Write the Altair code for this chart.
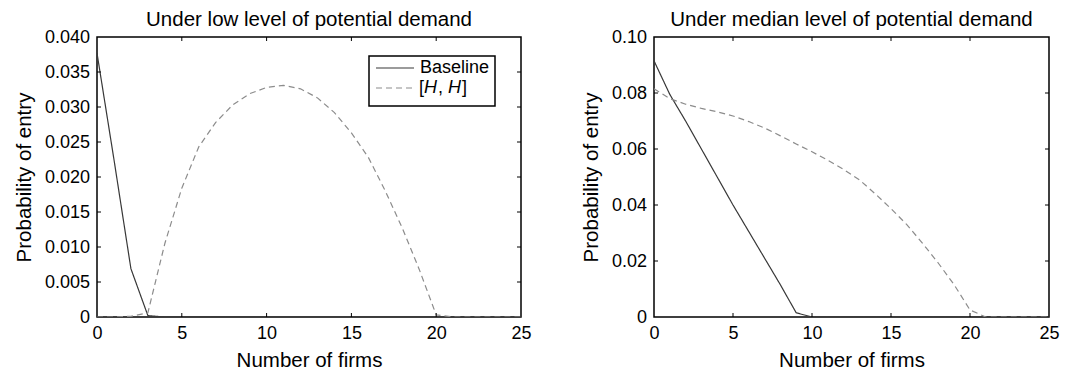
import altair as alt
import pandas as pd

# ---------------- data ----------------
firms = list(range(26))
series_names = ["Baseline", "[H, H]"]

low_baseline = [0.0377, 0.0225, 0.0069, 0.0002] + [0.0] * 22
low_hh = [0.0, 0.0, 0.0001, 0.0006, 0.0105, 0.0184, 0.0243, 0.0278, 0.0303, 0.0319,
          0.0328, 0.0331, 0.0326, 0.0313, 0.0292, 0.0263, 0.0228, 0.0180, 0.0127, 0.0068,
          0.0003, 0.0, 0.0, 0.0, 0.0, 0.0]

med_baseline = [0.0915, 0.0795, 0.0700, 0.0600, 0.0500, 0.0400, 0.0305, 0.0210, 0.0115, 0.0015] + [0.0] * 16
med_hh = [0.0815, 0.0780, 0.0760, 0.0745, 0.0733, 0.0718, 0.0698, 0.0675, 0.0647, 0.0618,
          0.0590, 0.0560, 0.0527, 0.0490, 0.0440, 0.0387, 0.0330, 0.0263, 0.0192, 0.0115,
          0.0025, 0.0, 0.0, 0.0, 0.0, 0.0]

x_ticks = [0, 5, 10, 15, 20, 25]
low_y_ticks = [0.0, 0.005, 0.010, 0.015, 0.020, 0.025, 0.030, 0.035, 0.040]
med_y_ticks = [0.0, 0.02, 0.04, 0.06, 0.08, 0.10]

FONT = "Liberation Sans"
H = 280
LAB = 18
TIT = 20.5


def long_df(base, hh):
    return pd.DataFrame({
        "firms": firms * 2,
        "prob": base + hh,
        "series": [series_names[0]] * len(firms) + [series_names[1]] * len(firms),
    })


def panel(base, hh, ydom, yticks, yfmt, title, W, legend=False):
    df = long_df(base, hh)
    xs = alt.Scale(domain=[0, 25], nice=False, zero=False)
    ys = alt.Scale(domain=ydom, nice=False)
    xaxis = alt.Axis(values=x_ticks, title="Number of firms", labelFontSize=LAB,
                     titleFontSize=TIT, titleFontWeight="normal", ticks=False, tickSize=0,
                     domain=False, grid=False, labelPadding=7, titlePadding=8,
                     labelFlush=False, labelOverlap=False,
                     labelColor="black", titleColor="black")
    yaxis = alt.Axis(values=yticks, title="Probability of entry", labelFontSize=LAB,
                     titleFontSize=TIT, titleFontWeight="normal", ticks=False, tickSize=0,
                     domain=False, grid=False, labelPadding=7.5, titlePadding=10,
                     labelFlush=False, labelOverlap=False,
                     labelColor="black", titleColor="black",
                     labelExpr=f"datum.value == 0 ? '0' : format(datum.value, '{yfmt}')")
    X = alt.X("firms:Q", scale=xs, axis=xaxis)
    Y = alt.Y("prob:Q", scale=ys, axis=yaxis)
    lines = alt.Chart(df).mark_line(strokeWidth=1.2, clip=True).encode(
        x=X, y=Y,
        color=alt.Color("series:N", scale=alt.Scale(domain=series_names,
                                                    range=["#383838", "#8c8c8c"]), legend=None),
        strokeDash=alt.StrokeDash("series:N", scale=alt.Scale(domain=series_names,
                                                              range=[[1, 0], [6, 4]]), legend=None),
        order=alt.Order("series:N", sort="descending"),
    )
    xt = pd.DataFrame({"firms": x_ticks[1:-1]})
    yt = pd.DataFrame({"prob": yticks[1:-1]})
    tb = alt.Chart(xt).mark_rule(color="black", strokeWidth=1).encode(
        x=X, y=alt.value(H), y2=alt.value(H - 4))
    tt = alt.Chart(xt).mark_rule(color="black", strokeWidth=1).encode(
        x=X, y=alt.value(0), y2=alt.value(4))
    tl = alt.Chart(yt).mark_rule(color="black", strokeWidth=1).encode(
        y=Y, x=alt.value(0), x2=alt.value(4))
    tr = alt.Chart(yt).mark_rule(color="black", strokeWidth=1).encode(
        y=Y, x=alt.value(W), x2=alt.value(W - 4))
    layers = [lines, tb, tt, tl, tr]
    if legend:
        one = pd.DataFrame({"a": [0]})
        bx0, bx1, by0, by1 = 272, 398, 19, 69
        box = alt.Chart(one).mark_rect(fill="white", stroke="black", strokeWidth=1.5).encode(
            x=alt.value(bx0), x2=alt.value(bx1), y=alt.value(by0), y2=alt.value(by1))
        l1 = alt.Chart(one).mark_rule(color="#383838", strokeWidth=1.2).encode(
            x=alt.value(279), x2=alt.value(317), y=alt.value(31))
        l2 = alt.Chart(one).mark_rule(color="#8c8c8c", strokeWidth=1.2, strokeDash=[6, 4]).encode(
            x=alt.value(279), x2=alt.value(317), y=alt.value(51))

        def txt(s, x, y, italic=False):
            return alt.Chart(one).mark_text(text=s, font=FONT, fontSize=LAB, align="left",
                                            baseline="middle", color="black",
                                            fontStyle="italic" if italic else "normal").encode(
                x=alt.value(x), y=alt.value(y))
        layers += [box, l1, l2,
                   txt("Baseline", 323, 31),
                   txt("[", 322, 51), txt("H", 327, 51, True), txt(",", 341, 51),
                   txt("H", 351, 51, True), txt("]", 365, 51)]
    return alt.layer(*layers).properties(
        width=W, height=H,
        title=alt.TitleParams(title, fontSize=TIT, font=FONT, fontWeight="normal",
                              offset=-2, color="black"))


left = panel(low_baseline, low_hh, [0, 0.04], low_y_ticks, ".3f",
             "Under low level of potential demand", 424, legend=True)
right = panel(med_baseline, med_hh, [0, 0.10], med_y_ticks, ".2f",
              "Under median level of potential demand", 395)

chart = alt.hconcat(left, right, spacing=48).properties(
    padding={"left": 5, "top": 0, "right": 5, "bottom": 0}
).configure(font=FONT).configure_view(stroke="black", strokeWidth=1.5)

chart.save("out.html", embed_options={"renderer": "svg", "actions": False})
